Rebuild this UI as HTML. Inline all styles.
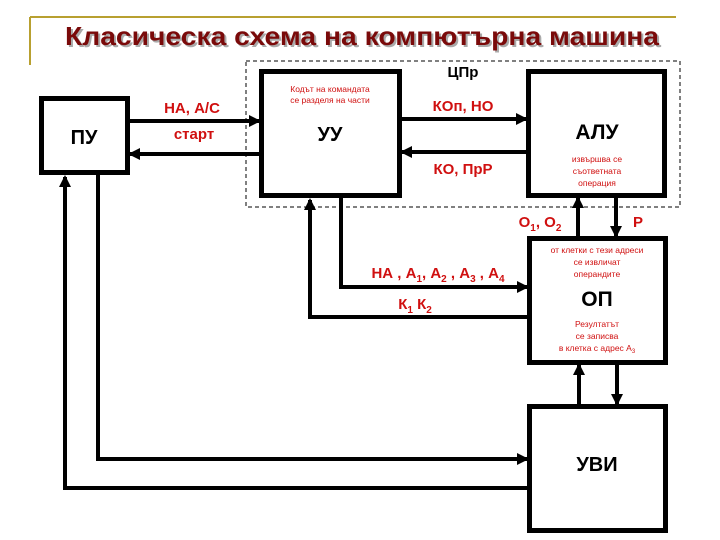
<!DOCTYPE html>
<html><head><meta charset="utf-8"><style>
html,body{margin:0;padding:0;background:#fff;}
svg{display:block;font-family:"Liberation Sans",sans-serif;}
</style></head><body>
<svg width="720" height="540" viewBox="0 0 720 540" xmlns="http://www.w3.org/2000/svg">
<defs>
<marker id="a" markerWidth="12" markerHeight="12" refX="10" refY="6" orient="auto" markerUnits="userSpaceOnUse">
<path d="M0,0 L12,6 L0,12 z" fill="#000"/></marker>
</defs>
<line x1="30" y1="17" x2="676" y2="17" stroke="#b8a030" stroke-width="2"/>
<line x1="30" y1="17" x2="30" y2="65" stroke="#b8a030" stroke-width="2"/>
<text x="67" y="47" font-size="26" font-weight="bold" fill="#aaa" textLength="594" lengthAdjust="spacingAndGlyphs">Класическа схема на компютърна машина</text>
<text x="65" y="45" font-size="26" font-weight="bold" fill="#7a0a0a" textLength="594" lengthAdjust="spacingAndGlyphs">Класическа схема на компютърна машина</text>
<rect x="246" y="61" width="434" height="146" fill="none" stroke="#000" stroke-width="1" stroke-dasharray="4,3"/>
<text x="463" y="77" text-anchor="middle" font-size="15" font-weight="bold" fill="#000">ЦПр</text>
<g fill="none" stroke="#000" stroke-width="5">
<rect x="41.5" y="98.5" width="86" height="74"/>
<rect x="261.5" y="71.5" width="138" height="124"/>
<rect x="528.5" y="71.5" width="136" height="124"/>
<rect x="529.5" y="238.5" width="136" height="124"/>
<rect x="529.5" y="406.5" width="136" height="124"/>
</g>
<g stroke="#000" stroke-width="4" fill="none">
<line x1="130" y1="121" x2="259" y2="121" marker-end="url(#a)"/>
<line x1="259" y1="154" x2="130" y2="154" marker-end="url(#a)"/>
<line x1="402" y1="119" x2="526" y2="119" marker-end="url(#a)"/>
<line x1="526" y1="152" x2="402" y2="152" marker-end="url(#a)"/>
<line x1="578" y1="236" x2="578" y2="198" marker-end="url(#a)"/>
<line x1="616" y1="198" x2="616" y2="236" marker-end="url(#a)"/>
<line x1="579" y1="404" x2="579" y2="365" marker-end="url(#a)"/>
<line x1="617" y1="365" x2="617" y2="404" marker-end="url(#a)"/>
<polyline points="341,198 341,287 527,287" marker-end="url(#a)"/>
<polyline points="527,317 310,317 310,200" marker-end="url(#a)"/>
<polyline points="98,175 98,459 527,459" marker-end="url(#a)"/>
<polyline points="527,488 65,488 65,177" marker-end="url(#a)"/>
</g>
<g text-anchor="middle" fill="#000" font-weight="bold">
<text x="84" y="144" font-size="20">ПУ</text>
<text x="330" y="141" font-size="20">УУ</text>
<text x="597" y="139" font-size="21">АЛУ</text>
<text x="597" y="306" font-size="21">ОП</text>
<text x="597" y="471" font-size="20">УВИ</text>
</g>
<g text-anchor="middle" fill="#d01010" font-weight="bold">
<text x="192" y="113" font-size="15">НА, А/С</text>
<text x="194" y="139" font-size="15">старт</text>
<text x="463" y="111" font-size="15">КОп, НО</text>
<text x="463" y="174" font-size="15">КО, ПрР</text>
<text x="540" y="227" font-size="15">О<tspan font-size="10" dy="4">1</tspan><tspan dy="-4">, О</tspan><tspan font-size="10" dy="4">2</tspan></text>
<text x="638" y="227" font-size="15">Р</text>
<text x="438" y="278" font-size="15">НА , А<tspan font-size="10" dy="4">1</tspan><tspan dy="-4">, А</tspan><tspan font-size="10" dy="4">2</tspan><tspan dy="-4"> , А</tspan><tspan font-size="10" dy="4">3</tspan><tspan dy="-4"> , А</tspan><tspan font-size="10" dy="4">4</tspan></text>
<text x="415" y="309" font-size="15">К<tspan font-size="10" dy="4">1</tspan><tspan dy="-4"> К</tspan><tspan font-size="10" dy="4">2</tspan></text>
</g>
<g text-anchor="middle" fill="#d01010" font-size="8.5">
<text x="330" y="92">Кодът на командата</text>
<text x="330" y="103">се разделя на части</text>
<text x="597" y="162">извършва се</text>
<text x="597" y="174">съответната</text>
<text x="597" y="186">операция</text>
<text x="597" y="253">от клетки с тези адреси</text>
<text x="597" y="265">се извличат</text>
<text x="597" y="277">операндите</text>
<text x="597" y="327">Резултатът</text>
<text x="597" y="339">се записва</text>
<text x="597" y="351">в клетка с адрес А<tspan font-size="6" dy="2">3</tspan></text>
</g>
</svg>
</body></html>
